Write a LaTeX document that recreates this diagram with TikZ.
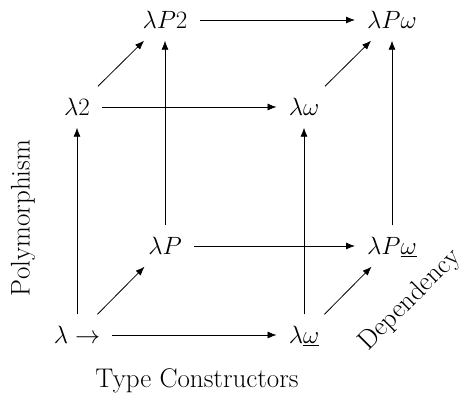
\RequirePackage{fix-cm}
\documentclass[tikz,border=0pt]{standalone}
\usepackage{tikz}
\usetikzlibrary{arrows.meta,positioning}
\tikzset{
  sys/.style={inner xsep=12pt,inner ysep=11pt,text height=18pt,text depth=1pt,font=\fontsize{25}{30}\selectfont},
  axislbl/.style={font=\fontsize{27}{32}\selectfont},
  arr/.style={-{Latex[length=9pt,width=7pt]},line width=0.8pt}
}
\begin{document}
\begin{tikzpicture}[x=1pt,y=1pt,on grid]
    \useasboundingbox (0,0) rectangle (468,402);
    % front face
    \node[sys] (lam) at (77,67) {$\lambda\to$};
    \node[sys,right=227pt of lam] (lamw) {$\lambda\underline{\omega}$};
    \node[sys,above=228pt of lam] (lamtwo) {$\lambda2$};
    \node[sys,above=228pt of lamw] (lamom) {$\lambda\omega$};
    % back face
    \node[sys,above right=89pt and 88pt of lam] (lamP) {$\lambda P$};
    \node[sys,right=227pt of lamP] (lamPw) {$\lambda P\underline{\omega}$};
    \node[sys,above=226pt of lamP] (lamPtwo) {$\lambda P2$};
    \node[sys,right=227pt of lamPtwo] (lamPom) {$\lambda P\omega$};
    % axes
    \node[axislbl] (tycon) at (197,21) {Type Constructors};
    \node[axislbl,rotate=90] (poly) at (23,184) {Polymorphism};
    \node[axislbl,rotate=45] (dep) at (410,102) {Dependency};
    \draw[arr] (lam) -- (lamw);
    \draw[arr] (lamtwo) -- (lamom);
    \draw[arr] (lamP) -- (lamPw);
    \draw[arr] (lamPtwo) -- (lamPom);
    \draw[arr] (lam) -- (lamtwo);
    \draw[arr] (lamw) -- (lamom);
    \draw[arr] (lamP) -- (lamPtwo);
    \draw[arr] (lamPw) -- (lamPom);
    \draw[arr] (lam) -- (lamP);
    \draw[arr] (lamw) -- (lamPw);
    \draw[arr] (lamtwo) -- (lamPtwo);
    \draw[arr] (lamom) -- (lamPom);
  \end{tikzpicture}
\end{document}
